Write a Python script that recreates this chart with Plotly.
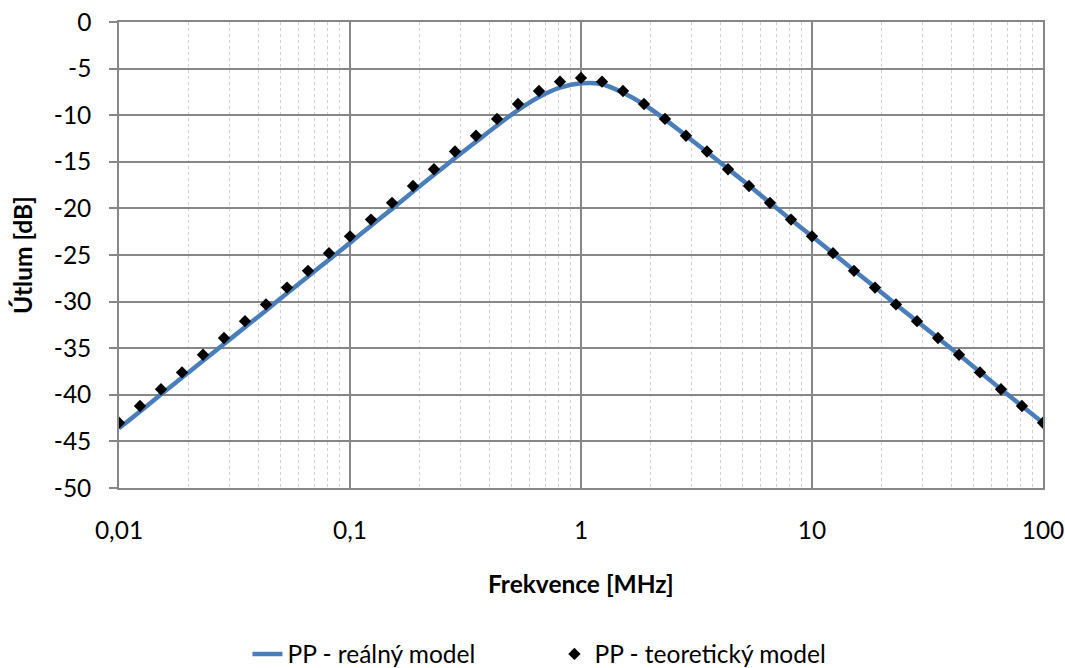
import plotly.graph_objects as go

# Frequencies [MHz] (log-spaced sample points)
freq = [0.01, 0.01233, 0.0152, 0.01874, 0.0231, 0.02848, 0.03511, 0.04329, 0.05337, 0.06579, 0.08111,
        0.1, 0.1233, 0.152, 0.1874, 0.231, 0.2848, 0.3511, 0.4329, 0.5337, 0.6579, 0.8111,
        1, 1.233, 1.52, 1.874, 2.31, 2.848, 3.511, 4.329, 5.337, 6.579, 8.111,
        10, 12.33, 15.2, 18.74, 23.1, 28.48, 35.11, 43.29, 53.37, 65.79, 81.11, 100]

# PP - reálný model [dB]
real_db = [-43.6, -41.8, -39.95, -38.15, -36.35, -34.55, -32.75, -30.95, -29.1, -27.3, -25.5,
           -23.7, -21.85, -20.05, -18.2, -16.4, -14.6, -12.85, -11.1, -9.45, -8.05, -7.05,
           -6.58, -6.68, -7.6, -8.85, -10.45, -12.2, -13.95, -15.75, -17.55, -19.4, -21.2,
           -23.0, -24.8, -26.65, -28.45, -30.3, -32.1, -33.9, -35.7, -37.55, -39.4, -41.2, -43.0]

# PP - teoretický model [dB]
theo_db = [-43.0, -41.2, -39.4, -37.6, -35.7, -33.9, -32.1, -30.3, -28.5, -26.7, -24.8,
           -23.0, -21.2, -19.4, -17.6, -15.8, -13.9, -12.2, -10.4, -8.8, -7.4, -6.4,
           -6.0, -6.4, -7.4, -8.8, -10.4, -12.2, -13.9, -15.8, -17.6, -19.4, -21.2,
           -23.0, -24.8, -26.7, -28.5, -30.3, -32.1, -33.9, -35.7, -37.6, -39.4, -41.2, -43.0]

x_tickvals = [0.01, 0.1, 1, 10, 100]
x_ticktext = ["0,01", "0,1", "1", "10", "100"]
y_tickvals = [0, -5, -10, -15, -20, -25, -30, -35, -40, -45, -50]
y_ticktext = ["0", "-5", "-10", "-15", "-20", "-25", "-30", "-35", "-40", "-45", "-50"]

FONT = "Lato"
FS = 24.5
GRID = "#878787"

fig = go.Figure()
fig.add_trace(go.Scatter(
    x=freq, y=real_db, mode="lines", name="PP - reálný model",
    line=dict(color="#4A7EBB", width=4.5, shape="spline"),
))
fig.add_trace(go.Scatter(
    x=freq, y=theo_db, mode="markers", name="PP - teoretický model",
    marker=dict(symbol="diamond", size=9.5, color="black"),
))

fig.update_layout(
    width=1065, height=668,
    margin=dict(l=119, r=22, t=22, b=180, autoexpand=False),
    paper_bgcolor="white", plot_bgcolor="white",
    font=dict(family=FONT, size=FS, color="black"),
    showlegend=True,
    legend=dict(orientation="h", x=0.139, xanchor="left",
                yref="container", y=(668 - 654) / 668, yanchor="middle",
                font=dict(family=FONT, size=FS), entrywidth=262),
    xaxis=dict(
        type="log", range=[-2, 2], automargin=False,
        tickvals=x_tickvals, ticktext=x_ticktext,
        showgrid=True, gridcolor=GRID, gridwidth=1.5,
        showline=True, linecolor=GRID, linewidth=1.5, mirror=True,
        ticks="", ticklabelstandoff=20,
        tickfont=dict(family=FONT, size=FS),
        minor=dict(dtick="D1", showgrid=True, gridcolor="#D0D0D0", gridwidth=1, griddash="dot", ticks=""),
        zeroline=False,
    ),
    yaxis=dict(
        range=[-50, 0], automargin=False,
        tickvals=y_tickvals, ticktext=y_ticktext,
        showgrid=True, gridcolor=GRID, gridwidth=1.5,
        showline=True, linecolor=GRID, linewidth=1.5, mirror=True,
        ticks="outside", ticklen=8, tickcolor=GRID, tickwidth=1.5,
        ticklabelstandoff=13,
        tickfont=dict(family=FONT, size=FS),
        zeroline=False,
    ),
    annotations=[
        dict(text="<b>Frekvence [MHz]</b>", xref="paper", yref="paper", x=0.5, y=-0.206,
             xanchor="center", yanchor="middle", showarrow=False, font=dict(family=FONT, size=FS)),
        dict(text="<b>Útlum [dB]</b>", xref="paper", yref="paper", x=-0.105, y=0.5,
             xanchor="center", yanchor="middle", textangle=-90, showarrow=False,
             font=dict(family=FONT, size=FS)),
    ],
)

fig.write_html("out.html")
